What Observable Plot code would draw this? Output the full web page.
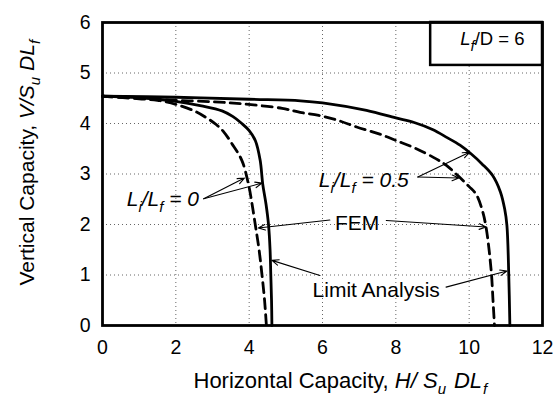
<!DOCTYPE html>
<html>
<head>
<meta charset="utf-8">
<script src="https://cdn.jsdelivr.net/npm/d3@7"></script>
<script src="https://cdn.jsdelivr.net/npm/@observablehq/plot@0.6"></script>
<style>
  body { margin: 0; background: #fff; }
</style>
</head>
<body>
<div id="chart"></div>
<script>
// Axis tick values
const xTicks = [0, 2, 4, 6, 8, 10, 12];
const yTicks = [0, 1, 2, 3, 4, 5, 6];

// Capacity envelopes as [H/SuDLf, V/SuDLf] pairs, Li/Lf = 0
const limitAnalysis0 = [
  [0, 4.54], [1, 4.51], [2, 4.44], [2.7, 4.35], [3.26, 4.25], [3.55, 4.14],
  [3.8, 4.0], [4.0, 3.86], [4.17, 3.66], [4.3, 3.27], [4.37, 2.8], [4.46, 2.4],
  [4.53, 1.98], [4.57, 1.5], [4.59, 1.0], [4.61, 0.5], [4.62, 0]
];
const fem0 = [
  [0, 4.54], [1, 4.49], [1.5, 4.46], [2, 4.38], [2.5, 4.25], [2.8, 4.13],
  [3.1, 3.98], [3.3, 3.84], [3.53, 3.6], [3.8, 3.27], [3.98, 2.8], [4.08, 2.4],
  [4.17, 1.98], [4.27, 1.5], [4.35, 1.0], [4.42, 0.5], [4.47, 0]
];

// Capacity envelopes, Li/Lf = 0.5
const limitAnalysis05 = [
  [0, 4.54], [2, 4.52], [4, 4.48], [5.4, 4.45], [6, 4.41], [7.2, 4.26],
  [8, 4.11], [8.5, 4.02], [9, 3.88], [9.4, 3.72], [9.75, 3.57], [10.05, 3.4],
  [10.35, 3.2], [10.64, 2.97], [10.85, 2.65], [10.97, 2.3], [11.03, 1.98],
  [11.08, 1.0], [11.11, 0]
];
const fem05 = [
  [0, 4.54], [1, 4.5], [2, 4.46], [3, 4.43], [3.8, 4.39], [4.9, 4.3],
  [5.39, 4.22], [5.9, 4.16], [6.43, 4.06], [6.93, 3.93], [7.52, 3.8],
  [8.02, 3.66], [8.56, 3.5], [9.1, 3.3], [9.38, 3.17], [9.69, 2.97],
  [10.0, 2.75], [10.19, 2.6], [10.35, 2.3], [10.46, 1.95], [10.6, 1.09],
  [10.65, 0.5], [10.69, 0]
];

// Annotation labels and their anchor points
const labelTexts = ["Li/Lf = 0", "Li/Lf = 0.5", "FEM", "Limit Analysis"];
const labelAnchors = [[0.66, 2.36], [5.9, 2.74], [6.34, 1.89], [5.73, 0.574]];
const labelItalic = [true, true, false, false];

// Leader arrows: tail and head points
const arrowTails = [[2.76, 2.51], [2.76, 2.51], [8.6, 2.94], [8.6, 2.94],
                    [6.2, 2.09], [7.74, 2.08], [5.93, 0.99], [9.37, 0.76]];
const arrowHeads = [[3.87, 2.92], [4.35, 2.82], [10.01, 3.43], [9.72, 2.92],
                    [4.25, 1.93], [10.46, 1.95], [4.62, 1.29], [11.03, 1.08]];

const toPoints = (pairs) => pairs.map(([h, v]) => ({h, v}));
const labels = labelTexts.map((t, i) => ({t, x: labelAnchors[i][0], y: labelAnchors[i][1], italic: labelItalic[i]}));
const arrows = arrowTails.map((a, i) => ({x1: a[0], y1: a[1], x2: arrowHeads[i][0], y2: arrowHeads[i][1]}));

const font = "'Liberation Sans', Arial, Helvetica, sans-serif";
const gridStyle = {stroke: "#666", strokeWidth: 1, strokeDasharray: "1,3"};
const solid = {x: "h", y: "v", stroke: "black", strokeWidth: 2.8, curve: "catmull-rom"};
const dashed = {...solid, strokeDasharray: "10,6"};

const svg = Plot.plot({
  width: 557,
  height: 398,
  marginLeft: 102,
  marginRight: 15,
  marginTop: 22,
  marginBottom: 73,
  style: {fontFamily: font, fontSize: "19px", background: "white", color: "black"},
  x: {domain: [0, 12], ticks: xTicks, tickFormat: d => String(d), tickSize: 0, tickPadding: 15, label: null},
  y: {domain: [0, 6], ticks: yTicks, tickFormat: d => String(d), tickSize: 0, tickPadding: 12, label: null},
  marks: [
    Plot.ruleX(xTicks.slice(1, -1), gridStyle),
    Plot.ruleY(yTicks.slice(1, -1), gridStyle),
    Plot.line(toPoints(fem0), dashed),
    Plot.line(toPoints(limitAnalysis0), solid),
    Plot.line(toPoints(fem05), dashed),
    Plot.line(toPoints(limitAnalysis05), solid),
    Plot.arrow(arrows, {x1: "x1", y1: "y1", x2: "x2", y2: "y2", stroke: "black",
      strokeWidth: 1.1, headLength: 10, headAngle: 45}),
    Plot.text(labels.filter(d => d.italic), {x: "x", y: "y", text: "t", textAnchor: "start",
      lineAnchor: "bottom", fontSize: 21, fontStyle: "italic", fill: "black"}),
    Plot.text(labels.filter(d => !d.italic), {x: "x", y: "y", text: "t", textAnchor: "start",
      lineAnchor: "bottom", fontSize: 21, fill: "black"}),
    // inset parameter box in the upper-right corner
    Plot.rect([0], {x1: () => 8.95, x2: () => 12, y1: () => 5.15, y2: () => 6,
      fill: "white", stroke: "black", strokeWidth: 2.5}),
    Plot.text(["Lf/D = 6"], {frameAnchor: "top-right", dx: -18, dy: 22, textAnchor: "end",
      lineAnchor: "bottom", fontSize: 18.5, fill: "black"}),
    // axis titles
    Plot.text(["Horizontal Capacity, H/SuDLf"], {frameAnchor: "bottom-left", dx: 91, dy: 62,
      textAnchor: "start", lineAnchor: "bottom", fontSize: 22, fill: "black"}),
    Plot.text(["Vertical Capacity, V/SuDLf"], {frameAnchor: "bottom-left", dx: -69, dy: -40,
      rotate: -90, textAnchor: "start", lineAnchor: "bottom", fontSize: 21, fill: "black"}),
    Plot.frame({stroke: "black", strokeWidth: 2.8})
  ]
});

// Tick labels a little larger than the default
d3.select(svg).selectAll('g[aria-label*="tick label"] text, .tick text').style("font-size", "19.5px");

// Rich text: italic pieces ("i"), subscripts ("s") and extra gaps before a piece
const rich = {
  "Lf/D = 6": [["L", "i"], ["f", "is"], ["/D = 6", ""]],
  "Li/Lf = 0": [["L", "i"], ["i", "is"], ["/L", "i"], ["f", "is"], [" = 0", "i"]],
  "Li/Lf = 0.5": [["L", "i"], ["i", "is"], ["/L", "i"], ["f", "is"], [" = 0.5", "i"]],
  "Horizontal Capacity, H/SuDLf": [["Horizontal Capacity, ", ""], ["H/ S", "i"], ["u", "is"], ["DL", "i", 8], ["f", "is", 1]],
  "Vertical Capacity, V/SuDLf": [["Vertical Capacity, ", ""], ["V/S", "i"], ["u", "is"], [" DL", "i"], ["f", "is"]]
};
const subShift = 6;
d3.select(svg).selectAll("text").each(function () {
  const spec = rich[this.textContent];
  if (!spec) return;
  const t = d3.select(this);
  t.text(null);
  let inSub = false;
  for (const [s, f, gap] of spec) {
    const ts = t.append("tspan").text(s);
    ts.attr("font-style", f.includes("i") ? "italic" : "normal");
    if (gap) ts.attr("dx", gap);
    const sub = f.includes("s");
    if (sub !== inSub) { ts.attr("dy", sub ? subShift : -subShift); inSub = sub; }
    if (sub) ts.attr("font-size", 15);
  }
});

document.getElementById("chart").appendChild(svg);
</script>
</body>
</html>
